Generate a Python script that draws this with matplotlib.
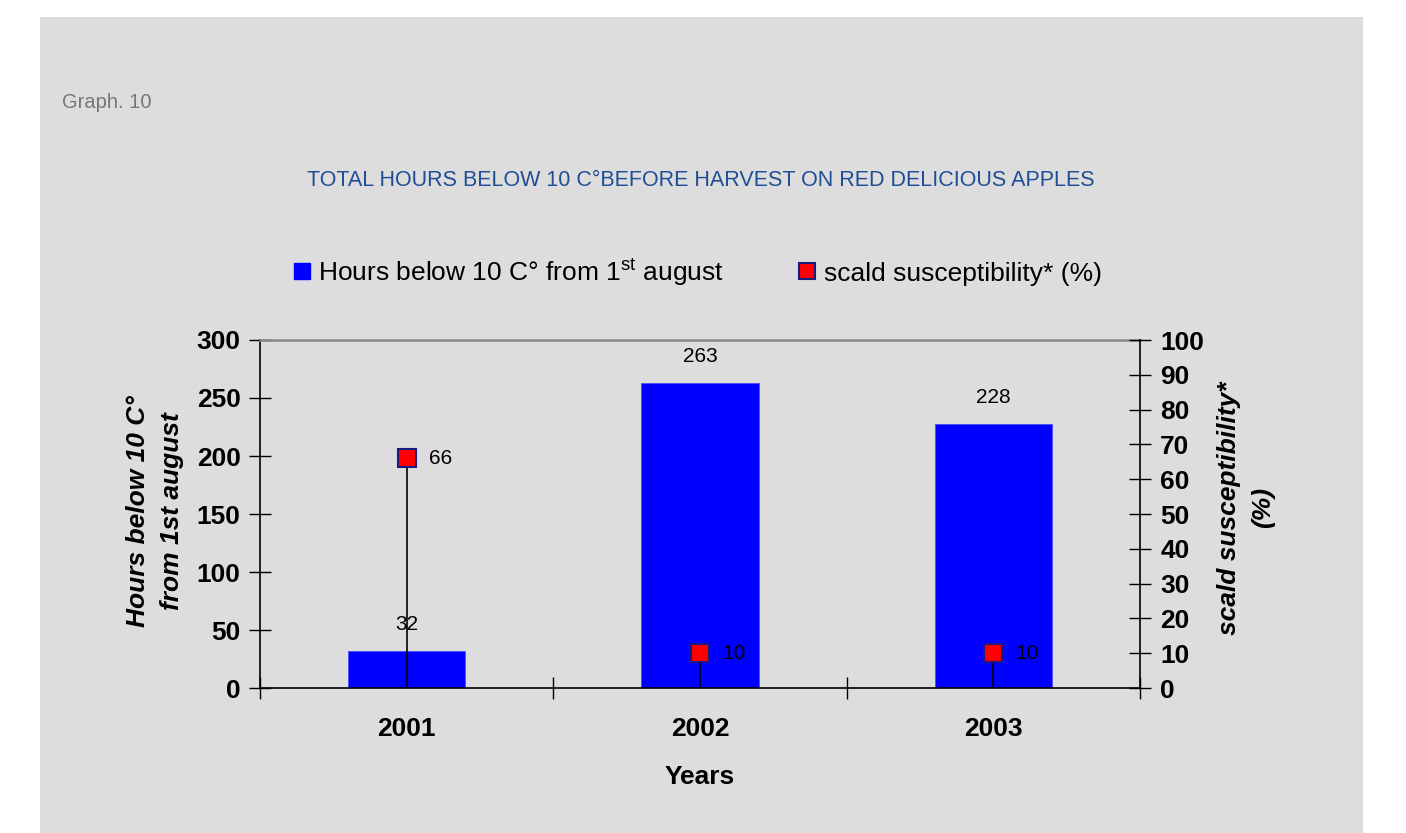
import numpy as np
import matplotlib.pyplot as plt
from matplotlib.patches import Rectangle
from matplotlib.lines import Line2D

years = ['2001', '2002', '2003']
hours = [32, 263, 228]
scald = [66, 10, 10]

plt.rcParams['font.family'] = ['Liberation Sans', 'DejaVu Sans']
plt.rcParams['mathtext.fontset'] = 'custom'
plt.rcParams['mathtext.rm'] = 'Liberation Sans'

W, H = 1406, 833
fig = plt.figure(figsize=(W / 100, H / 100), dpi=100)
fig.patch.set_facecolor('white')
bg = '#dddddd'
fig.patches.append(Rectangle((40 / W, 0), 1323 / W, 816 / H, transform=fig.transFigure,
                             facecolor=bg, edgecolor='none', zorder=-10))

fig.text(62 / W, 1 - 103 / H, 'Graph. 10', fontsize=14.5, color='#777777', va='center')
fig.text(701 / W, 1 - 180 / H, 'TOTAL HOURS BELOW 10 C°BEFORE HARVEST ON RED DELICIOUS APPLES',
         fontsize=15.5, color='#1f4e96', ha='center', va='center')

ax = fig.add_axes([260 / W, 1 - 688 / H, 880 / W, 348 / H])
ax.set_facecolor(bg)
x = np.arange(len(years))
ax.bar(x, hours, width=0.4, color='#0000ff', edgecolor='#4d4dff', linewidth=0.6, zorder=2)
for xi, h in zip(x, hours):
    ax.annotate(str(h), (xi, h), xytext=(0, 19), textcoords='offset points',
                ha='center', va='center', fontsize=15)

ax.set_xlim(-0.5, 2.5)
ax.set_ylim(0, 300)
ax.set_yticks(np.arange(0, 301, 50))
ax.set_xticks(x)
ax.set_xticklabels(years, fontsize=19, fontweight='bold')
ax.set_xticks(np.arange(-0.5, 2.6, 1), minor=True)
ax.tick_params(axis='x', which='major', length=0, pad=21)
ax.tick_params(axis='x', which='minor', direction='inout', length=16, width=1)
ax.tick_params(axis='y', direction='inout', length=16, width=1, labelsize=19, pad=6)
for lbl in ax.get_yticklabels():
    lbl.set_fontweight('bold')
ax.spines['top'].set_color('#888888')
ax.spines['top'].set_linewidth(1.8)
ax.spines['right'].set_visible(False)
ax.spines['left'].set_linewidth(1.2)
ax.spines['bottom'].set_linewidth(1.2)
ax.set_xlabel('Years', fontsize=19, fontweight='bold', labelpad=17)

ax2 = ax.twinx()
ax2.set_ylim(0, 100)
ax2.set_yticks(np.arange(0, 101, 10))
ax2.tick_params(axis='y', direction='inout', length=16, width=1, labelsize=19, pad=6.5)
for lbl in ax2.get_yticklabels():
    lbl.set_fontweight('bold')
for s in ['top', 'left', 'bottom']:
    ax2.spines[s].set_visible(False)
ax2.spines['right'].set_linewidth(1.2)
ax2.vlines(x, 0, scald, color='black', linewidth=1.2, zorder=3)
ax2.plot(x, scald, linestyle='none', marker='s', markersize=13, markerfacecolor='#ff0000',
         markeredgecolor='#1a1a80', markeredgewidth=1.5, zorder=4)
for xi, s in zip(x, scald):
    ax2.annotate(str(s), (xi, s), xytext=(16, 0), textcoords='offset points',
                 ha='left', va='center', fontsize=15)

# axis titles, placed on the figure
fig.text(155 / W, 1 - 511 / H, 'Hours below 10 C°\nfrom 1st august', rotation=90,
         ha='center', va='center', fontsize=19, fontweight='bold', style='italic',
         linespacing=1.5)
fig.text(1246 / W, 1 - 508 / H, 'scald susceptibility*\n(%)', rotation=90,
         ha='center', va='center', fontsize=19, fontweight='bold', style='italic',
         linespacing=1.5)

handles = [
    Line2D([], [], linestyle='none', marker='s', markersize=11.5, markerfacecolor='#0000ff',
           markeredgecolor='#0000ff'),
    Line2D([], [], linestyle='none', marker='s', markersize=11.5, markerfacecolor='#ff0000',
           markeredgecolor='#1a1a80', markeredgewidth=1.5),
]
labels = [r'Hours below 10 C° from 1$^{\mathrm{st}}$ august', 'scald susceptibility* (%)']
fig.legend(handles, labels, loc='center', bbox_to_anchor=(698 / W, 1 - 272 / H), ncol=2,
           frameon=False, fontsize=19, handlelength=0.6, handletextpad=0.34,
           columnspacing=2.85, borderpad=0, borderaxespad=0)

fig.savefig('out.png', dpi=100, facecolor='white')
